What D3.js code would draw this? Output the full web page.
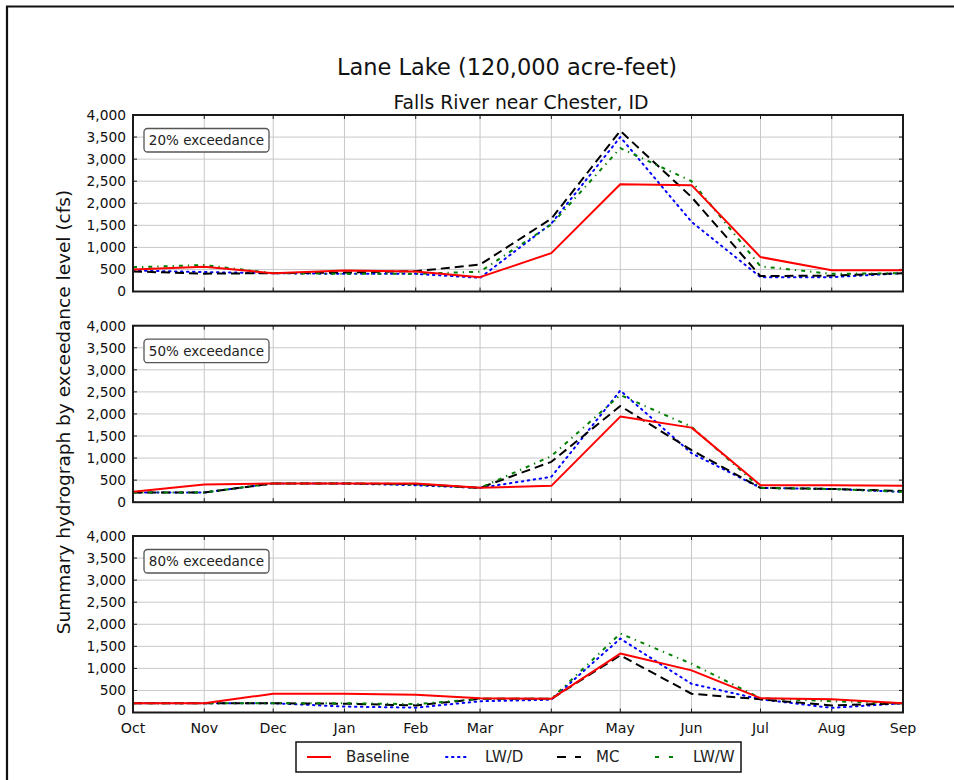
<!DOCTYPE html>
<html>
<head>
<meta charset="utf-8">
<script src="https://cdn.jsdelivr.net/npm/d3@7"></script>
<style>
  html, body { margin: 0; padding: 0; background: #fff; }
  svg { display: block; font-family: "DejaVu Sans", sans-serif; }
</style>
</head>
<body>
<svg id="chart" width="954" height="780"></svg>
<script>
// ---------------- data ----------------
const monthLabels = ["Oct","Nov","Dec","Jan","Feb","Mar","Apr","May","Jun","Jul","Aug","Sep"];
const monthDates = ["2001-10-01","2001-11-01","2001-12-01","2002-01-01","2002-02-01","2002-03-01",
                    "2002-04-01","2002-05-01","2002-06-01","2002-07-01","2002-08-01","2002-09-01"];
const yTicks = [0, 500, 1000, 1500, 2000, 2500, 3000, 3500, 4000];
const seriesNames = ["Baseline", "LW/D", "MC", "LW/W"];
const panelLabels = ["20% exceedance", "50% exceedance", "80% exceedance"];

const baseline20 = [500, 560, 415, 475, 455, 325, 870, 2430, 2410, 780, 480, 480];
const lwd20      = [475, 440, 415, 400, 400, 310, 1540, 3500, 1580, 325, 325, 415];
const mc20       = [455, 405, 415, 430, 460, 610, 1650, 3640, 2140, 350, 360, 415];
const lww20      = [550, 600, 415, 400, 400, 450, 1520, 3250, 2500, 570, 400, 415];

const baseline50 = [235, 400, 425, 425, 425, 325, 370, 1940, 1690, 385, 385, 370];
const lwd50      = [220, 220, 425, 425, 385, 325, 575, 2530, 1110, 325, 300, 235];
const mc50       = [220, 220, 425, 425, 410, 325, 915, 2180, 1180, 325, 300, 255];
const lww50      = [220, 220, 425, 425, 400, 325, 1045, 2430, 1710, 325, 300, 235];

const baseline80 = [210, 210, 425, 425, 400, 325, 310, 1335, 955, 325, 300, 210];
const lwd80      = [210, 210, 210, 135, 110, 255, 290, 1675, 650, 300, 105, 210];
const mc80       = [210, 210, 210, 200, 160, 310, 310, 1295, 425, 300, 160, 210];
const lww80      = [210, 210, 210, 210, 190, 310, 310, 1790, 1105, 325, 255, 210];

const panels = [
  [baseline20, lwd20, mc20, lww20],
  [baseline50, lwd50, mc50, lww50],
  [baseline80, lwd80, mc80, lww80]
];

// ---------------- styles ----------------
const styles = [
  { color: "#ff0000", dash: null,            width: 2,   cap: "butt" },
  { color: "#0000ff", dash: "1.5,4.5",       width: 2,   cap: "round" },
  { color: "#000000", dash: "9,5",           width: 2,   cap: "butt" },
  { color: "#008000", dash: "4,5,1.3,5",     width: 2,   cap: "butt" }
];

const svg = d3.select("#chart");
const parse = d3.timeParse("%Y-%m-%d");
const dates = monthDates.map(parse);

const left = 133, right = 903;
const panelTops = [115, 325.7, 536];
const panelH = 176.5;

const x = d3.scaleTime().domain([dates[0], dates[dates.length - 1]]).range([left, right]);

// outer frame (top and left edges)
svg.append("line").attr("x1", 6).attr("x2", 954).attr("y1", 6.5).attr("y2", 6.5)
  .attr("stroke", "#111").attr("stroke-width", 2.2);
svg.append("line").attr("x1", 7).attr("x2", 7).attr("y1", 6).attr("y2", 780)
  .attr("stroke", "#111").attr("stroke-width", 2.2);

// titles
svg.append("text").attr("x", 507).attr("y", 75).attr("text-anchor", "middle")
  .attr("font-size", 22.5).attr("fill", "#111").text("Lane Lake (120,000 acre-feet)");
svg.append("text").attr("x", 521).attr("y", 109).attr("text-anchor", "middle")
  .attr("font-size", 18.8).attr("fill", "#111").text("Falls River near Chester, ID");

// y label
svg.append("text")
  .attr("transform", "translate(70,412) rotate(-90)")
  .attr("text-anchor", "middle")
  .attr("font-size", 18.5).attr("fill", "#111")
  .text("Summary hydrograph by exceedance level (cfs)");

panels.forEach((series, pi) => {
  const top = panelTops[pi];
  const y = d3.scaleLinear().domain([0, 4000]).range([top + panelH, top]);
  const g = svg.append("g");
  const isLast = pi === panels.length - 1;

  g.append("rect").attr("x", left).attr("y", top).attr("width", right - left).attr("height", panelH)
    .attr("fill", "#fff");

  // grid
  g.append("g").selectAll("line").data(yTicks.slice(1, -1)).join("line")
    .attr("x1", left).attr("x2", right)
    .attr("y1", d => y(d)).attr("y2", d => y(d))
    .attr("stroke", "#c8c8c8").attr("stroke-width", 1);
  g.append("g").selectAll("line").data(dates.slice(1, -1)).join("line")
    .attr("y1", top).attr("y2", top + panelH)
    .attr("x1", d => x(d)).attr("x2", d => x(d))
    .attr("stroke", "#c8c8c8").attr("stroke-width", 1);

  // inner ticks
  const tl = 4;
  g.append("g").selectAll("line").data(yTicks).join("line")
    .attr("x1", left).attr("x2", left + tl).attr("y1", d => y(d)).attr("y2", d => y(d))
    .attr("stroke", "#222").attr("stroke-width", 1);
  g.append("g").selectAll("line").data(yTicks).join("line")
    .attr("x1", right - tl).attr("x2", right).attr("y1", d => y(d)).attr("y2", d => y(d))
    .attr("stroke", "#222").attr("stroke-width", 1);
  g.append("g").selectAll("line").data(dates).join("line")
    .attr("x1", d => x(d)).attr("x2", d => x(d)).attr("y1", top).attr("y2", top + tl)
    .attr("stroke", "#222").attr("stroke-width", 1);
  g.append("g").selectAll("line").data(dates).join("line")
    .attr("x1", d => x(d)).attr("x2", d => x(d)).attr("y1", top + panelH - tl).attr("y2", top + panelH)
    .attr("stroke", "#222").attr("stroke-width", 1);

  // y tick labels
  const fmt = d3.format(",");
  g.append("g").selectAll("text").data(yTicks).join("text")
    .attr("x", 126).attr("y", d => y(d) - (isLast && d === 0 ? 2 : 0)).attr("dy", "0.36em")
    .attr("text-anchor", "end").attr("font-size", 13.8).attr("fill", "#111")
    .text(d => fmt(d));

  // series lines
  const line = d3.line().x((d, i) => x(dates[i])).y(d => y(d));
  const clipId = "clip" + pi;
  g.append("clipPath").attr("id", clipId).append("rect")
    .attr("x", left).attr("y", top).attr("width", right - left).attr("height", panelH);
  const lg = g.append("g").attr("clip-path", `url(#${clipId})`);
  [1, 2, 3, 0].forEach(si => {
    const st = styles[si];
    lg.append("path").datum(series[si])
      .attr("d", line)
      .attr("fill", "none")
      .attr("stroke", st.color)
      .attr("stroke-width", st.width)
      .attr("stroke-linecap", st.cap)
      .attr("stroke-linejoin", "round")
      .attr("stroke-dasharray", st.dash);
  });

  // frame
  g.append("rect").attr("x", left).attr("y", top).attr("width", right - left).attr("height", panelH)
    .attr("fill", "none").attr("stroke", "#1a1a1a").attr("stroke-width", 2);

  // panel label box
  g.append("rect").attr("x", 144).attr("y", top + 13.5).attr("width", 125).attr("height", 23.5)
    .attr("rx", 3.5).attr("ry", 3.5)
    .attr("fill", "#fff").attr("stroke", "#555").attr("stroke-width", 1.3);
  g.append("text").attr("x", 206.5).attr("y", top + 25.5).attr("dy", "0.36em")
    .attr("text-anchor", "middle").attr("font-size", 13.5).attr("fill", "#222")
    .text(panelLabels[pi]);

  if (isLast) {
    g.append("g").selectAll("text").data(dates).join("text")
      .attr("x", d => x(d)).attr("y", top + panelH + 15.5).attr("dy", "0.36em")
      .attr("text-anchor", "middle").attr("font-size", 14.2).attr("fill", "#111")
      .text((d, i) => monthLabels[i]);
  }
});

// legend
const legY = 757;
svg.append("rect").attr("x", 296).attr("y", 742).attr("width", 445).attr("height", 30)
  .attr("fill", "#fff").attr("stroke", "#111").attr("stroke-width", 1.5);
const legX = [307, 446, 557, 655];
seriesNames.forEach((name, i) => {
  const st = styles[i];
  svg.append("line").attr("x1", legX[i]).attr("x2", legX[i] + 24)
    .attr("y1", legY).attr("y2", legY)
    .attr("stroke", st.color).attr("stroke-width", st.width)
    .attr("stroke-linecap", st.cap)
    .attr("stroke-dasharray", i === 2 ? "9,9" : (i === 3 ? "4,10" : st.dash));
  svg.append("text").attr("x", i === 3 ? legX[i] + 38 : legX[i] + 39).attr("y", legY).attr("dy", "0.36em")
    .attr("font-size", 15).attr("fill", "#222").text(name);
});
</script>
</body>
</html>
